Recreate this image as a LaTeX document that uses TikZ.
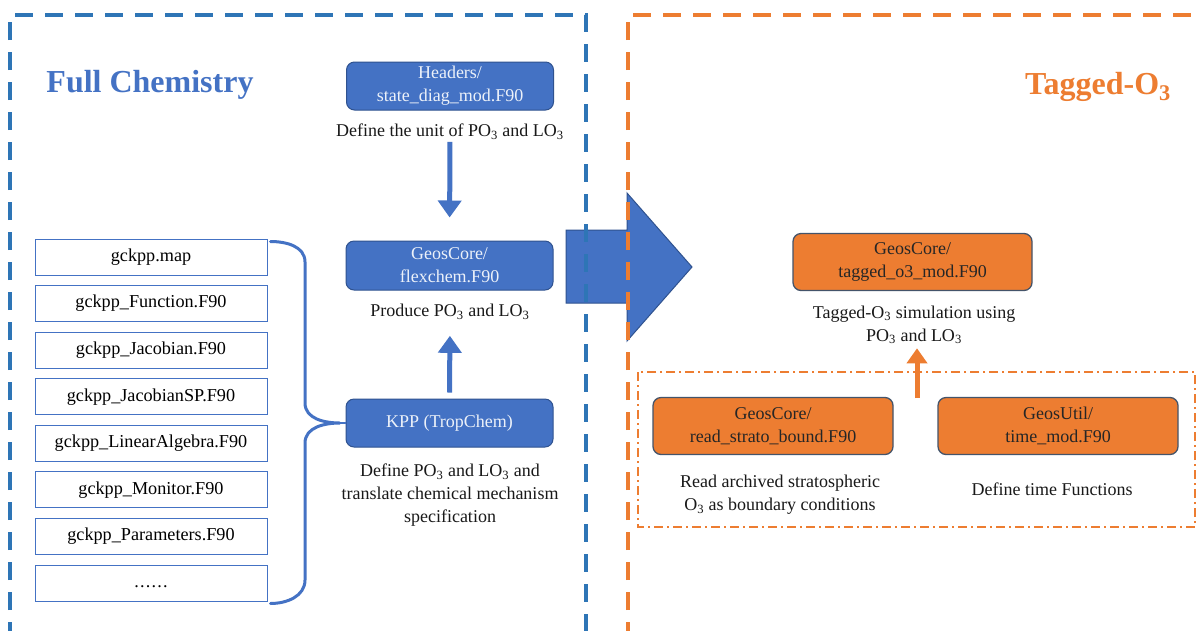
\documentclass[tikz,border=0pt]{standalone}
\usepackage{fontspec}
\setmainfont{Liberation Serif}
\usepackage{tikz}
\usetikzlibrary{arrows.meta,positioning}
\definecolor{boxblue}{HTML}{4472C4}
\definecolor{lineblue}{HTML}{2E75B6}
\definecolor{edgeblue}{HTML}{2F528F}
\definecolor{boxorange}{HTML}{ED7D31}
\definecolor{edgeslate}{HTML}{44546A}
\newcommand{\sixdots}{\vphantom{Ag}.\kern1.2pt.\kern1.2pt.\kern1.2pt.\kern1.2pt.\kern1.2pt.}
\tikzset{
  filenode/.style={draw=boxblue, line width=1pt, minimum width=232pt, minimum height=36pt, inner sep=0pt, font=\fontsize{18.2}{23}\selectfont},
  bluemod/.style={draw=edgeblue, fill=boxblue, rounded corners=8pt, line width=1pt, minimum width=207pt, minimum height=48pt, inner sep=0pt, align=center, text=white!90!boxblue, font=\fontsize{18}{23}\selectfont},
  orangemod/.style={draw=edgeslate, fill=boxorange, rounded corners=8pt, line width=1.3pt, minimum width=240pt, minimum height=57pt, inner sep=0pt, align=center, text=black!85, font=\fontsize{18}{23}\selectfont},
  desc/.style={align=center, inner sep=0pt, text=black!90, font=\fontsize{18}{23}\selectfont},
  bluearrow/.style={draw=boxblue, line width=5pt, -{Triangle[width=23pt,length=17pt]}},
  orangearrow/.style={draw=boxorange, line width=5pt, -{Triangle[width=20pt,length=15pt]}}
}

\begin{document}
\begin{tikzpicture}[x=1pt, y=-1pt]
  \useasboundingbox (0,0) rectangle (1198,630);
  \fill[white] (0,0) rectangle (1198,630);

  \draw[edgeblue, fill=boxblue, line width=1pt] (566,230) -- (627,230) -- (627,193) -- (692,267) -- (627,341) -- (627,303) -- (566,303) -- cycle;

  \draw[lineblue, line width=4pt, dash pattern=on 18pt off 12pt] (10,640) -- (10,15) -- (586,15) -- (586,640);
  \draw[boxorange, line width=4pt, dash pattern=on 18pt off 12pt] (628,640) -- (628,15) -- (1215,15);
  \draw[boxorange, line width=1.8pt, dash pattern=on 9pt off 4pt on 2pt off 4pt] (638,372) rectangle (1195,527);

  \node[text=boxblue, font=\fontsize{32}{36}\selectfont\bfseries] (fullchem) at (150,85) {Full Chemistry};
  \node[text=boxorange, font=\fontsize{32}{36}\selectfont\bfseries] (tagged) at (1098,87) {Tagged-O\textsubscript{3}};

  \foreach \name/\txt [count=\i from 0] in {f1/gckpp.map, f2/gckpp\_Function.F90, f3/gckpp\_Jacobian.F90, f4/gckpp\_JacobianSP.F90, f5/gckpp\_LinearAlgebra.F90, f6/gckpp\_Monitor.F90, f7/gckpp\_Parameters.F90, f8/\sixdots}
    \node[filenode] (\name) at (151,257+46.57*\i) {\txt};

  \node[bluemod] (hdr) at (450,86) {Headers/\\state\_diag\_mod.F90};
  \node[desc] (hdrdesc) at (450,132) {Define the unit of PO\textsubscript{3} and LO\textsubscript{3}};
  \node[bluemod, minimum height=49pt] (flex) at (449.5,265.5) {GeosCore/\\flexchem.F90};
  \node[desc] (flexdesc) at (450,312) {Produce PO\textsubscript{3} and LO\textsubscript{3}};
  \node[bluemod] (kpp) at (449.5,423) {KPP (TropChem)};
  \node[desc] (kppdesc) at (450,495) {Define PO\textsubscript{3} and LO\textsubscript{3} and\\translate chemical mechanism\\specification};

  \node[orangemod, minimum width=239pt] (tag) at (912.5,262) {GeosCore/\\tagged\_o3\_mod.F90};
  \node[desc] (tagdesc) at (914,325) {Tagged-O\textsubscript{3} simulation using\\PO\textsubscript{3} and LO\textsubscript{3}};
  \node[orangemod] (strato) at (773,426) {GeosCore/\\read\_strato\_bound.F90};
  \node[desc] (stratodesc) at (780,495) {Read archived stratospheric\\O\textsubscript{3} as boundary conditions};
  \node[orangemod] (time) at (1058,426) {GeosUtil/\\time\_mod.F90};
  \node[desc] (timedesc) at (1052,489) {Define time Functions};

  \coordinate (brtip) at (340,423);
  \draw[boxblue, line width=3pt, line cap=round] (f1.north east) ++(3,3) to[out=0, in=90] (305,262) -- (305,403) to[out=-90, in=180] (brtip)
    to[out=180, in=90] (305,443) -- (305,580) to[out=-90, in=0] ([xshift=3pt,yshift=-2pt]f8.south east);
  \draw[boxblue, line width=2pt] (brtip) -- (kpp.west);

  \draw[bluearrow, shorten <=2pt, shorten >=23pt] (hdrdesc.south) -- (flex.north);
  \draw[bluearrow, shorten <=6pt, shorten >=16pt] (kpp.north) -- (flexdesc.south);
  \coordinate (tagfoot) at (917,398);
  \draw[orangearrow, shorten >=4pt] (tagfoot) -- (tagfoot |- tagdesc.south);
\end{tikzpicture}
\end{document}
